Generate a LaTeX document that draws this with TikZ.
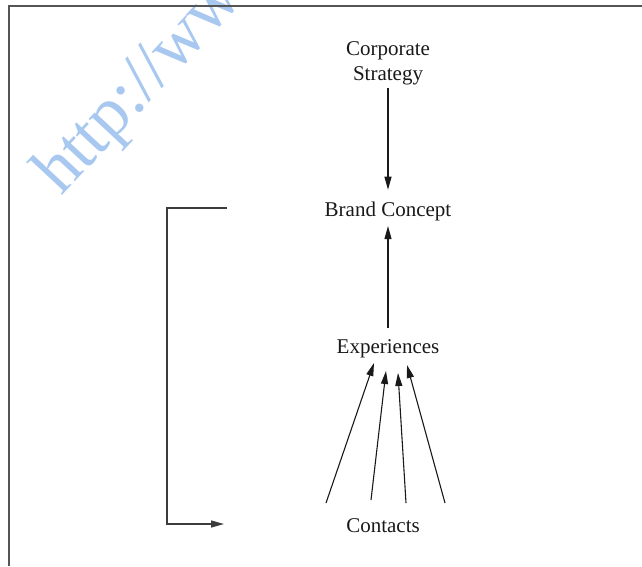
\documentclass[tikz,border=0pt]{standalone}
\usepackage{fontspec}
\setmainfont{Liberation Serif}
\usetikzlibrary{arrows.meta}
\definecolor{wmblue}{RGB}{168,200,240}
\definecolor{framegray}{RGB}{85,85,85}
\definecolor{inkgray}{RGB}{60,60,60}
\begin{document}
\begin{tikzpicture}[x=1pt,y=-1pt,
  lbl/.style={inner sep=0pt, font=\fontsize{21}{25}\selectfont, text=black!90},
  arr/.style={line width=1.1pt, black!90, -{Triangle[length=13pt,width=7pt]}},
  brk/.style={line width=1.4pt, inkgray, -{Triangle[length=13pt,width=7pt]}},
  frameline/.style={line width=2pt, framegray}]
\useasboundingbox (0,0) rectangle (642,566);
% watermark
\node[anchor=base west, rotate=47, inner sep=0pt, text=wmblue,
      font=\fontsize{70}{70}\selectfont] (wm) at (61,197) {http://www};
% frame
\draw[frameline] (9,566) -- (9,6) -- (642,6);
% nodes
\node[lbl, align=center] (corp) at (388,63) {Corporate\\Strategy};
\node[lbl, anchor=base] (brand) at (388,216) {Brand Concept};
\node[lbl, anchor=base] (exp) at (388,353) {Experiences};
\node[lbl, anchor=base] (cont) at (383,532) {Contacts};
% vertical arrows
\draw[arr, shorten <=3pt, shorten >=11.5pt] (corp.south) -- (brand.north);
\draw[arr, shorten <=10.5pt, shorten >=5.4pt] (exp.north) -- (brand.south);
% contacts to experiences
\coordinate (c1) at (326,503);
\coordinate (c2) at (371,500);
\coordinate (c3) at (406,503);
\coordinate (c4) at (445,503);
\coordinate (e1) at (374,363);
\coordinate (e2) at (386,371);
\coordinate (e3) at (398,373);
\coordinate (e4) at (407,365);
\draw[arr] (c1) -- (e1);
\draw[arr] (c2) -- (e2);
\draw[arr] (c3) -- (e3);
\draw[arr] (c4) -- (e4);
% feedback bracket
\coordinate (bt) at (227,208);
\coordinate (bb) at (224,524);
\draw[brk] (bt) -- (167,208) |- (bb);
\end{tikzpicture}
\end{document}
